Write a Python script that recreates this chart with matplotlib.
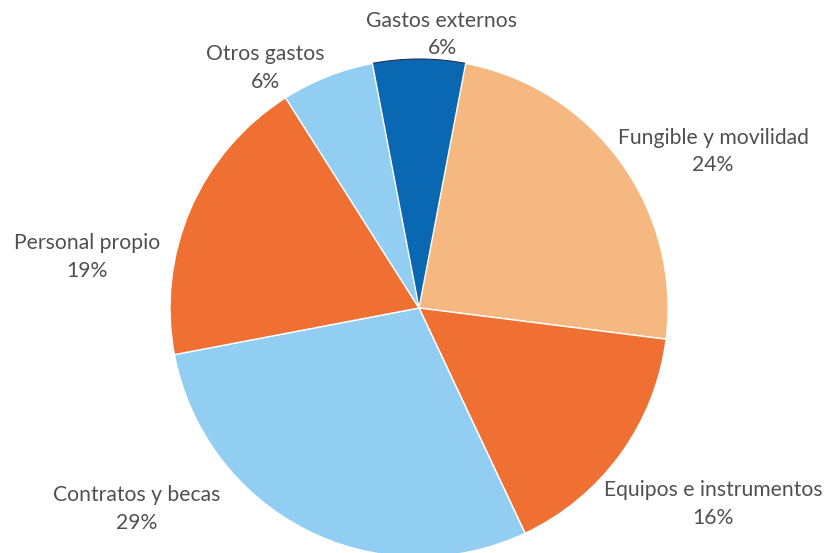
"""Distribucion del gasto por concepto (grafico de sectores)."""

import matplotlib
matplotlib.use('Agg')
import matplotlib.pyplot as plt

# Data
categories = ['Gastos externos', 'Fungible y movilidad', 'Equipos e instrumentos',
              'Contratos y becas', 'Personal propio', 'Otros gastos']
shares = [6, 24, 16, 29, 19, 6]

# Styles
colors = ['#0a68b2', '#f5b880', '#f07034', '#92cdf2', '#f07034', '#92cdf2']
label_pos = [(0.092, 1.10), (1.181, 0.627), (1.181, -0.787),
             (-1.133, -0.807), (-1.333, 0.205), (-0.618, 0.964)]
text_color = '#505050'

fig = plt.figure(figsize=(8.26, 5.53), dpi=100)
ax = fig.add_axes([0.2058, -0.0072, 0.603, 0.9005])
wedges, _ = ax.pie(shares, colors=colors, startangle=100.8, counterclock=False,
                   radius=1, wedgeprops=dict(edgecolor='white', linewidth=1))
wedges[0].set_edgecolor('#1d3550')
wedges[0].set_linewidth(0.8)
ax.set_xlim(-1, 1)
ax.set_ylim(-1, 1)
ax.set_aspect('auto')
ax.axis('off')

for name, val, (x, y) in zip(categories, shares, label_pos):
    ax.text(x, y, f'{name}\n{val}%', ha='center', va='center', fontsize=15.2,
            family='Lato', color=text_color, linespacing=1.45, clip_on=False)

fig.savefig('out.png', dpi=100)
